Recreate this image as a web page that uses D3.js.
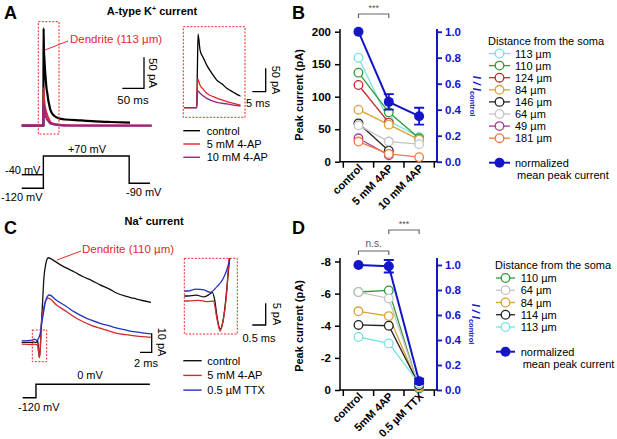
<!DOCTYPE html>
<html>
<head>
<meta charset="utf-8">
<script src="https://cdn.jsdelivr.net/npm/d3@7"></script>
<style>
body { margin: 0; background: #fff; }
text { font-family: "Liberation Sans", Arial, sans-serif; }
</style>
</head>
<body>
<svg id="fig" width="617" height="439"></svg>
<script>
// ---------- data ----------
// A: A-type K+ current, [ms from the step, pA]
const kControl = [[-50,0],[0,0],[0.25,80],[0.5,157],[1.25,123],[2.5,106],[3.75,91],[5.6,74],[7.5,59],[9.4,51],[11.25,41.5],[13.75,33],[15.6,27],[20,20],[25,16],[35,12],[50,10],[87,8.5],[120,7],[154,6],[200,5]];
const k4AP5 = [[-50,0],[0,0],[0.2,40],[0.4,61],[1.25,48],[2.5,39],[3.75,31],[6.2,23.5],[8.7,18],[11.25,13],[13.75,9.4],[16.2,6],[22,4],[30,2.5],[45,1.2],[70,0.5],[250,0]];
const k4AP10 = [[-50,0],[0,0],[0.2,22],[0.4,36],[1.25,31],[3.75,20],[7.5,11.5],[11.25,8],[15.6,4],[22,2.5],[35,1],[60,0],[250,0]];
// voltage step, [ms, mV]
const kHold40 = [[-50,-40],[0,-40]];
const kStep = [[-50,-120],[0,-120],[0,70],[198,70],[198,-90],[246,-90]];

// C: Na+ current, [ms from the inward peak, pA]
const naControl = [[-3,0],[-1.2,0],[-0.9,0.2],[-0.6,-0.2],[-0.4,0.4],[-0.3,0.85],[-0.2,-1],[-0.125,-4.4],[0,-7.6],[0.1,-6],[0.19,-2],[0.25,1.8],[0.35,8.5],[0.55,20],[0.8,34],[1.1,41],[1.54,44.5],[2.5,43],[3.5,41],[4.7,39],[6,37],[7.5,34.5],[9,32.5],[10.4,30.2],[12,28],[13.3,25.8],[14.7,24.3],[16.1,23.2],[17.6,22],[19.1,21]];
const na4AP = [[-3,-1],[-1.2,-1.15],[-0.8,-1],[-0.5,-1.3],[-0.25,-1.15],[-0.12,-5.2],[0,-8.1],[0.1,-6],[0.19,-2.5],[0.25,1.2],[0.33,8.5],[0.6,15],[1,21],[1.54,23.2],[3,19.5],[4.7,16.1],[6,13.3],[7.5,10.8],[9,8.8],[10.4,7.4],[12,5.9],[13.3,4.7],[14.7,4],[16.1,3.5],[17.6,3],[19.1,2.6]];
const naTTX = [[-3,0.8],[-1.2,1.15],[-0.9,1.6],[-0.6,1.4],[-0.37,0.85],[-0.12,2.15],[0.12,4.1],[0.31,7.2],[0.37,8.8],[0.7,15],[1.1,22],[1.71,24.9],[3,22],[4.7,18.7],[6,16],[7.5,13.5],[9,11.5],[10.4,10],[12,8.6],[13.3,7.4],[14.7,6.5],[16.1,5.6],[17.6,5],[19.1,4.4]];
const naStep = [[-2.83,-120],[-0.56,-120],[-0.56,0],[18.9,0]];

// B: peak current per cell
const bCategories = ['control', '5 mM 4AP', '10 mM 4AP'];
const bDistances = ['113 µm','110 µm','124 µm','84 µm','146 µm','64 µm','49 µm','181 µm'];
const bColors = ['#74e4e4','#2f9a3a','#c42a2e','#d9a236','#222222','#c4c4c4','#a23a96','#ef7a3c'];
const bValues = [[160,63,38],[137,76,36],[118,60,null],[80,57,34],[59,17,null],[56,31,27],[36,10,null],[31,12,7]];
const bMean = [1.0, 0.46, 0.35];
const bErr = [0, 0.06, 0.065];

// D: peak current per cell
const dCategories = ['control', '5mM 4AP', '0.5 µM TTX'];
const dDistances = ['110 µm','64 µm','84 µm','114 µm','113 µm'];
const dColors = ['#2f9a3a','#c4c4c4','#d9a236','#222222','#74e4e4'];
const dValues = [[-6.1,-6.2,-0.1],[-6.1,-5.7,-0.2],[-4.9,-4.6,-0.2],[-4.05,-4.0,-0.3],[-3.3,-2.9,-0.4]];
const dMean = [1.0, 0.99, 0.07];
const dErr = [0, 0.05, 0.02];

const red = '#e8262b';
const blue = '#1414c8';
const svg = d3.select('#fig');

function label(x, y, str, opt) {
	opt = opt || {};
	return svg.append('text')
		.attr('x', x).attr('y', y)
		.attr('font-size', opt.size || 11)
		.attr('font-weight', opt.bold ? 'bold' : 'normal')
		.attr('text-anchor', opt.anchor || 'start')
		.attr('fill', opt.color || '#000')
		.attr('transform', opt.rotate ? `rotate(${opt.rotate},${x},${y})` : null)
		.text(str);
}

function traces(list, x, y, clip) {
	const line = d3.line().x(d => x(d[0])).y(d => y(d[1])).curve(d3.curveMonotoneX);
	const g = svg.append('g').attr('clip-path', clip ? `url(#${clip})` : null);
	list.forEach(t => {
		g.append('path').datum(t.data).attr('d', line)
			.style('fill', 'none').style('stroke', t.color).style('stroke-width', t.w || 1.3)
			.style('stroke-linejoin', 'round');
	});
}

function clipRect(id, x0, y0, x1, y1) {
	svg.append('clipPath').attr('id', id).append('rect')
		.attr('x', x0).attr('y', y0).attr('width', x1 - x0).attr('height', y1 - y0);
}

function dashedBox(x0, y0, x1, y1) {
	svg.append('rect').attr('x', x0).attr('y', y0).attr('width', x1 - x0).attr('height', y1 - y0)
		.style('fill', 'none').style('stroke', red).style('stroke-width', 1).style('stroke-dasharray', '2,1.5');
}

function scaleBar(x, y, w, h) {
	svg.append('path').attr('d', `M${x - w},${y}H${x}V${y - h}`)
		.style('fill', 'none').style('stroke', '#000').style('stroke-width', 1.3);
}

function legendLines(x0, x1, tx, y0, step, names, colors) {
	names.forEach((n, i) => {
		const y = y0 + i * step;
		svg.append('line').attr('x1', x0).attr('x2', x1).attr('y1', y).attr('y2', y)
			.style('stroke', colors[i]).style('stroke-width', 1.4);
		label(tx, y + 4, n, {size: 11});
	});
}

// ---------- panel letters and titles ----------
label(4, 19, 'A', {size: 18, bold: true});
label(292, 19, 'B', {size: 18, bold: true});
label(4, 234, 'C', {size: 18, bold: true});
label(292, 234, 'D', {size: 18, bold: true});
label(152, 15, 'A-type K', {size: 11, bold: true, anchor: 'middle'})
	.append('tspan').attr('font-size', 7).attr('dy', -4).text('+')
	.select(function(){ return this.parentNode; })
	.append('tspan').attr('dy', 4).text(' current');
label(154, 225, 'Na', {size: 11, bold: true, anchor: 'middle'})
	.append('tspan').attr('font-size', 7).attr('dy', -4).text('+')
	.select(function(){ return this.parentNode; })
	.append('tspan').attr('dy', 4).text(' current');

// ---------- A ----------
const xA = d3.scaleLinear().domain([-50, 250]).range([21.7, 151.7]);
const yA = d3.scaleLinear().domain([0, 50]).range([125.7, 94.7]);
const xAi = d3.scaleLinear().domain([-3.15, 16.2]).range([188.3, 240]);
const yAi = d3.scaleLinear().domain([0, 50]).range([107.7, 84.3]);
const vA = d3.scaleLinear().domain([-120, 70]).range([188.3, 156]);

const kTraces = [
	{data: kControl, color: '#000', w: 2.2},
	{data: k4AP5, color: '#e3262c', w: 1.8},
	{data: k4AP10, color: '#93287f', w: 2.2}
];
traces(kTraces, xA, yA);
dashedBox(38.3, 21.7, 59, 134);
label(70, 43, 'Dendrite (113 µm)', {size: 11.5, color: red});
svg.append('line').attr('x1', 68).attr('y1', 41).attr('x2', 45).attr('y2', 50)
	.style('stroke', red).style('stroke-width', 1);
scaleBar(144, 88.3, xA(50) - xA(0), yA(0) - yA(50));
label(133, 104, '50 ms', {size: 11.5, anchor: 'middle'});
label(149, 73, '50 pA', {size: 11.5, anchor: 'middle', rotate: 90});

clipRect('clipA', 184, 27, 240.5, 117);
traces(kTraces.map(t => ({data: t.data, color: t.color, w: 1.3})), xAi, yAi, 'clipA');
dashedBox(183.3, 26.7, 245, 117.3);
scaleBar(265.7, 91.7, xAi(5) - xAi(0), yAi(0) - yAi(50));
label(258, 107, '5 ms', {size: 11, anchor: 'middle'});
label(272, 80, '50 pA', {size: 11, anchor: 'middle', rotate: 90});

legendLines(183.3, 200, 206.7, 130.7, 13.3, ['control', '5 mM 4-AP', '10 mM 4-AP'], ['#000', '#e3262c', '#93287f']);

const stepLine = d3.line().x(d => xA(d[0])).y(d => vA(d[1]));
[kHold40, kStep].forEach(p => svg.append('path').attr('d', stepLine(p))
	.style('fill', 'none').style('stroke', '#000').style('stroke-width', 1.4));
label(5, 174, '-40 mV', {size: 11});
label(1, 201, '-120 mV', {size: 11});
label(87, 153, '+70 mV', {size: 11, anchor: 'middle'});
label(126, 196, '-90 mV', {size: 11});

// ---------- C ----------
const xC = d3.scaleLinear().domain([-3, 19.1]).range([21.7, 151]);
const yC = d3.scaleLinear().domain([0, 10]).range([342.3, 323.3]);
const xCi = d3.scaleLinear().domain([-1.225, 0.64]).range([187.3, 237.3]);
const yCi = d3.scaleLinear().domain([0, 5]).range([296, 274.3]);
const vC = d3.scaleLinear().domain([-120, 0]).range([397.7, 384.3]);

const naTraces = [
	{data: naControl, color: '#111'},
	{data: na4AP, color: '#d22b2b'},
	{data: naTTX, color: '#2433c4'}
];
traces(naTraces, xC, yC);
dashedBox(32.3, 330, 46.7, 361.7);
label(82, 253, 'Dendrite (110 µm)', {size: 11.5, color: red});
svg.append('line').attr('x1', 81).attr('y1', 251).attr('x2', 57).attr('y2', 260)
	.style('stroke', red).style('stroke-width', 1);
scaleBar(151.7, 352.3, xC(2) - xC(0), yC(0) - yC(10));
label(146, 367, '2 ms', {size: 11, anchor: 'middle'});
label(158, 342, '10 pA', {size: 11, anchor: 'middle', rotate: 90});

clipRect('clipC', 184.3, 258.3, 237.3, 334);
traces(naTraces, xCi, yCi, 'clipC');
dashedBox(184.3, 258.3, 237.3, 334);
scaleBar(265.7, 325, xCi(0.5) - xCi(0), yCi(0) - yCi(5));
label(259, 342, '0.5 ms', {size: 11, anchor: 'middle'});
label(273, 314, '5 pA', {size: 11, anchor: 'middle', rotate: 90});

legendLines(183.3, 201.7, 207.3, 360.7, 14.7, ['control', '5 mM 4-AP', '0.5 µM TTX'], ['#111', '#d22b2b', '#2433c4']);

svg.append('path').attr('d', d3.line().x(d => xC(d[0])).y(d => vC(d[1]))(naStep))
	.style('fill', 'none').style('stroke', '#000').style('stroke-width', 1.4);
label(90, 379, '0 mV', {size: 11, anchor: 'middle'});
label(18, 411, '-120 mV', {size: 11});

// ---------- B and D ----------
function summary(o) {
	const x = d3.scaleBand().domain(o.cats).range([343.3, 434.3]);
	const xc = c => x(c) + x.bandwidth() / 2;
	const g = svg.append('g');

	// left axis
	g.append('g').attr('transform', 'translate(340,0)')
		.call(d3.axisLeft(o.y).tickValues(o.ticks).tickSize(5).tickSizeOuter(0).tickFormat(d => String(d)))
		.call(a => a.select('.domain').attr('d', `M0,${o.y0}V${o.yTop}`).style('stroke-width', 1.5))
		.call(a => a.selectAll('line').style('stroke-width', 1.5))
		.call(a => a.selectAll('text').attr('font-size', 11.5).attr('font-weight', 'bold')
			.attr('font-family', '"Liberation Sans", Arial, sans-serif').attr('dx', '-1'));

	// right axis
	g.append('g').attr('transform', 'translate(437,0)')
		.call(d3.axisRight(o.yr).tickValues([0, 0.2, 0.4, 0.6, 0.8, 1.0]).tickSize(5).tickSizeOuter(0).tickFormat(d3.format('.1f')))
		.call(a => a.select('.domain').attr('d', `M0,${o.y0}V${o.yTop}`).style('stroke', blue).style('stroke-width', 2))
		.call(a => a.selectAll('line').style('stroke', blue).style('stroke-width', 1.8))
		.call(a => a.selectAll('text').attr('fill', blue).attr('font-size', 11.5).attr('font-weight', 'bold')
			.attr('font-family', '"Liberation Sans", Arial, sans-serif'));

	// x axis with ticks between categories
	g.append('line').attr('x1', 340).attr('x2', 437).attr('y1', o.y0).attr('y2', o.y0)
		.style('stroke', '#000').style('stroke-width', 1.5);
	const edges = o.cats.map(c => x(c)).concat([x(o.cats[o.cats.length - 1]) + x.bandwidth()]);
	g.selectAll('.xtick').data(edges).enter().append('line')
		.attr('x1', d => d).attr('x2', d => d).attr('y1', o.y0).attr('y2', o.y0 + 6)
		.style('stroke', '#000').style('stroke-width', 1.5);
	o.cats.forEach(c => {
		const px = xc(c) + 5, py = o.y0 + 7;
		label(px, py, c, {size: 11, bold: true, anchor: 'end', rotate: -45});
	});

	// axis titles
	label(303, o.titleY, 'Peak current (pA)', {size: 11, bold: true, anchor: 'middle', rotate: -90});
	const r = label(o.rX, o.rY, 'I / I', {size: 11, bold: true, anchor: 'middle', color: blue, rotate: 90});
	r.attr('font-style', 'italic');
	r.append('tspan').attr('font-size', 7.5).attr('font-style', 'normal').attr('dy', 3).text('control');

	// cells
	const line = d3.line().defined(d => d[1] != null).x(d => xc(d[0])).y(d => o.y(d[1]));
	o.values.forEach((v, i) => {
		const pts = v.map((val, j) => [o.cats[j], val]);
		g.append('path').datum(pts).attr('d', line)
			.style('fill', 'none').style('stroke', o.colors[i]).style('stroke-width', 1.3);
		g.selectAll(null).data(pts.filter(p => p[1] != null)).enter().append('circle')
			.attr('cx', p => xc(p[0])).attr('cy', p => o.y(p[1])).attr('r', 4.3)
			.style('fill', '#fff').style('stroke', o.colors[i]).style('stroke-width', 1.3);
	});

	// normalized mean
	const mpts = o.mean.map((m, j) => [o.cats[j], m, o.err[j]]);
	g.append('path').datum(mpts)
		.attr('d', d3.line().x(d => xc(d[0])).y(d => o.yr(d[1])))
		.style('fill', 'none').style('stroke', blue).style('stroke-width', 2);
	mpts.filter(p => p[2] > 0).forEach(p => {
		const cx = xc(p[0]), top = o.yr(p[1] + p[2]), bot = o.yr(p[1] - p[2]);
		g.append('path').attr('d', `M${cx},${top}V${bot}M${cx - 5},${top}H${cx + 5}M${cx - 5},${bot}H${cx + 5}`)
			.style('fill', 'none').style('stroke', blue).style('stroke-width', 1.8);
	});
	g.selectAll(null).data(mpts).enter().append('circle')
		.attr('cx', p => xc(p[0])).attr('cy', p => o.yr(p[1])).attr('r', 5)
		.style('fill', blue);

	// significance brackets
	o.brackets.forEach(b => {
		const x1 = xc(o.cats[b.from]), x2 = xc(o.cats[b.to]);
		g.append('path').attr('d', `M${x1},${b.y + 4}V${b.y}H${x2}V${b.y + 4}`)
			.style('fill', 'none').style('stroke', '#666').style('stroke-width', 1.2);
		label((x1 + x2) / 2, b.y - b.dy, b.text, {size: b.size, anchor: 'middle', color: '#555'});
	});

	// legend
	label(o.lx, o.ly, 'Distance from the soma', {size: 11});
	o.names.forEach((n, i) => {
		const y = o.ly + 9 + i * o.lstep;
		g.append('line').attr('x1', o.lm0).attr('x2', o.lm1).attr('y1', y).attr('y2', y)
			.style('stroke', o.colors[i]).style('stroke-width', 1.3);
		g.append('circle').attr('cx', (o.lm0 + o.lm1) / 2).attr('cy', y).attr('r', 4.3)
			.style('fill', '#fff').style('stroke', o.colors[i]).style('stroke-width', 1.3);
		label(o.lt, y + 4, n, {size: 11});
	});
	const ny = o.ny;
	g.append('line').attr('x1', o.lm0).attr('x2', o.lm1).attr('y1', ny).attr('y2', ny)
		.style('stroke', blue).style('stroke-width', 2);
	g.append('circle').attr('cx', (o.lm0 + o.lm1) / 2).attr('cy', ny).attr('r', 5).style('fill', blue);
	label(o.lt, ny + 4, 'normalized', {size: 11});
	label(o.lt + 2, ny + 16, 'mean peak current', {size: 11});
}

summary({
	cats: bCategories, values: bValues, colors: bColors, names: bDistances, mean: bMean, err: bErr,
	y: d3.scaleLinear().domain([0, 200]).range([161.7, 31.7]),
	yr: d3.scaleLinear().domain([0, 1]).range([161.7, 31.7]),
	ticks: [0, 50, 100, 150, 200], y0: 161.7, yTop: 29,
	titleY: 95, rX: 473, rY: 96,
	brackets: [{from: 0, to: 1, y: 14, text: '***', size: 9, dy: 3}],
	lx: 488, ly: 44.5, lstep: 12.1, lm0: 489, lm1: 510, lt: 515, ny: 162.7
});

summary({
	cats: dCategories, values: dValues, colors: dColors, names: dDistances, mean: dMean, err: dErr,
	y: d3.scaleLinear().domain([0, -8]).range([390, 261.5]),
	yr: d3.scaleLinear().domain([0, 1]).range([390, 265]),
	ticks: [0, -2, -4, -6, -8], y0: 390, yTop: 258,
	titleY: 326, rX: 472, rY: 324,
	brackets: [{from: 0, to: 1, y: 251, text: 'n.s.', size: 10, dy: 4}, {from: 1, to: 2, y: 230, text: '***', size: 9, dy: 3}],
	lx: 495, ly: 269, lstep: 12.25, lm0: 496, lm1: 515, lt: 520.7, ny: 351.7
});
</script>
</body>
</html>
